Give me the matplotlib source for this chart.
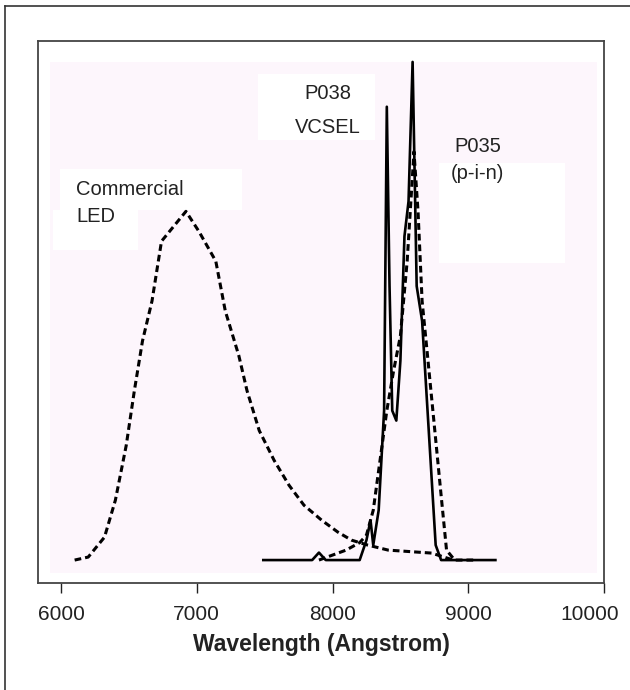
import matplotlib
matplotlib.use("Agg")
import matplotlib.pyplot as plt
import matplotlib.transforms as mtransforms
from matplotlib.lines import Line2D
from matplotlib.patches import Rectangle

plt.rcParams["font.family"] = ["Liberation Sans", "DejaVu Sans"]

# Commercial LED spectrum (dashed)
led_wl = [6100, 6200, 6320, 6400, 6480, 6540, 6600, 6670, 6740, 6830, 6920, 7015,
          7140, 7210, 7310, 7370, 7460, 7570, 7680, 7790, 7920, 8040, 8140, 8260,
          8410, 8730, 8890]
led_int = [0.0, 0.006, 0.046, 0.12, 0.23, 0.34, 0.44, 0.52, 0.64, 0.67, 0.70, 0.66,
           0.60, 0.50, 0.41, 0.34, 0.26, 0.20, 0.15, 0.11, 0.08, 0.056, 0.04, 0.03,
           0.02, 0.014, 0.0]

# P038 VCSEL spectrum (solid)
vcsel_wl = [7490, 7850, 7900, 7950, 8200, 8250, 8280, 8300, 8340, 8380, 8400, 8420,
            8440, 8470, 8500, 8530, 8560, 8590, 8620, 8660, 8700, 8760, 8800, 9200]
vcsel_int = [0.0, 0.0, 0.015, 0.0, 0.0, 0.04, 0.08, 0.03, 0.10, 0.30, 0.91, 0.55,
             0.30, 0.28, 0.40, 0.65, 0.72, 1.00, 0.55, 0.48, 0.30, 0.03, 0.0, 0.0]

# P035 p-i-n spectrum (dashed)
pin_wl = [7900, 8000, 8100, 8200, 8250, 8300, 8350, 8400, 8450, 8500, 8550, 8600,
          8630, 8660, 8700, 8750, 8800, 8840, 8900, 9050]
pin_int = [0.0, 0.01, 0.02, 0.035, 0.05, 0.10, 0.20, 0.30, 0.38, 0.45, 0.60, 0.82,
           0.70, 0.52, 0.41, 0.27, 0.13, 0.02, 0.0, 0.0]

xticks = [6000, 7000, 8000, 9000, 10000]

fig = plt.figure(figsize=(6.3, 6.9), dpi=100)
ax = fig.add_axes([0.0603, 0.1551, 0.8984, 0.7855])
ax.set_xlim(5830, 10000)
ax.set_ylim(-0.046, 1.042)

# pale pink scanned background and white label patches
ax.add_patch(Rectangle((5918, -0.026), 4030, 1.026, facecolor="#fdf6fc",
                       edgecolor="none", zorder=0))
for (x0, y0, w, h) in [(5992, 0.703, 1341, 0.082), (5940, 0.622, 626, 0.081),
                       (7451, 0.843, 861, 0.133), (8784, 0.596, 928, 0.201)]:
    ax.add_patch(Rectangle((x0, y0), w, h, facecolor="white", edgecolor="none", zorder=0.5))

ax.plot(led_wl, led_int, color="black", lw=2.2, linestyle=(0, (2.2, 1.3)), zorder=2)
ax.plot(pin_wl, pin_int, color="black", lw=2.2, linestyle=(0, (2.2, 1.3)), zorder=2)
ax.plot(vcsel_wl, vcsel_int, color="black", lw=1.9, zorder=3)

kw = dict(fontsize=14.5, color="#222222", va="baseline")
ax.text(6110, 0.733, "Commercial", ha="left", **kw)
ax.text(6110, 0.679, "LED", ha="left", **kw)
ax.text(7966, 0.926, "P038", ha="center", **kw)
ax.text(7966, 0.857, "VCSEL", ha="center", **kw)
ax.text(9071, 0.819, "P035", ha="center", **kw)
ax.text(9071, 0.765, "(p-i-n)", ha="center", **kw)

ax.set_xticks(xticks)
ax.set_xticklabels([str(t) for t in xticks])
ax.set_yticks([])
ax.tick_params(axis="x", direction="out", length=7, width=1, pad=9,
               labelsize=15, colors="#222222")
# last label sits a little left of its tick, as in the scan
last = ax.get_xticklabels()[-1]
last.set_transform(last.get_transform()
                   + mtransforms.ScaledTranslation(-0.14, 0, fig.dpi_scale_trans))
for s in ax.spines.values():
    s.set_color("#444444")
    s.set_linewidth(1.3)
ax.set_xlabel("Wavelength (Angstrom)", fontsize=16.5, fontweight="bold",
              color="#222222", labelpad=6)

# outer frame (top and left edges visible)
fig.add_artist(Line2D([5 / 630, 1.0], [1 - 6 / 690, 1 - 6 / 690], color="#333333", lw=1.2))
fig.add_artist(Line2D([5 / 630, 5 / 630], [0.0, 1 - 6 / 690], color="#333333", lw=1.2))

fig.savefig("out.png", dpi=100)
